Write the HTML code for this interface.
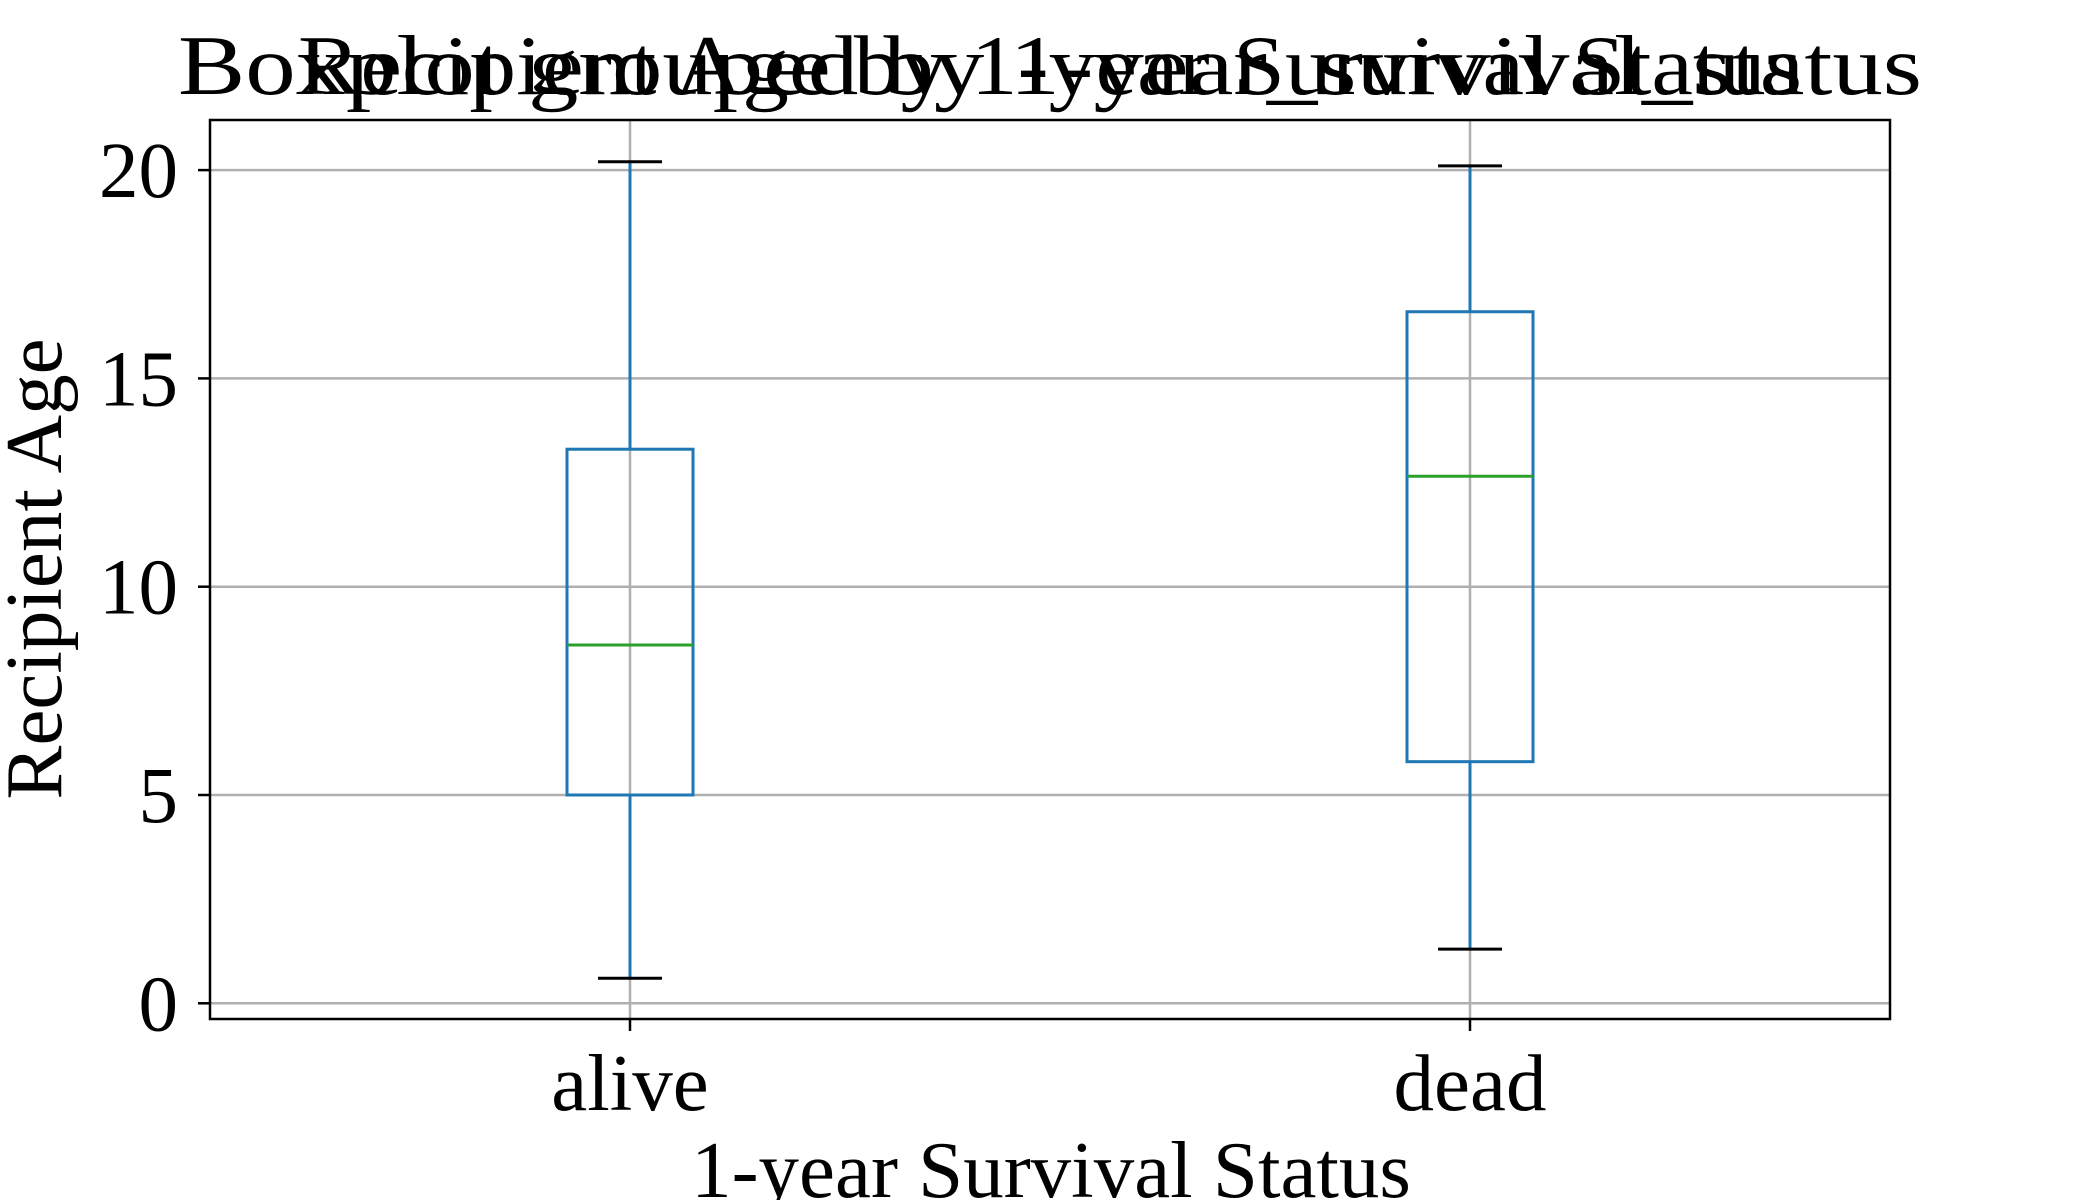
<!DOCTYPE html>
<html><head><meta charset="utf-8"><style>
html,body{margin:0;padding:0;background:#fff;}
svg{display:block;font-family:"Liberation Serif",serif;}
</style></head><body>
<svg id="chart" width="2100" height="1200" viewBox="0 0 2100 1200">
<text x="1050" y="94" font-size="85" text-anchor="middle" textLength="1744" lengthAdjust="spacingAndGlyphs">Boxplot grouped by 1-year_survival_status</text>
<text x="1050" y="94" font-size="85" text-anchor="middle" textLength="1504" lengthAdjust="spacingAndGlyphs">Recipient Age by 1-year Survival Status</text>
<g id="grid"></g>
<g id="boxes"></g>
<rect x="210" y="120" width="1680" height="899" fill="none" stroke="#000" stroke-width="2.5"/>
<g id="ticks"></g>
<text x="1051" y="1197" font-size="81" text-anchor="middle">1-year Survival Status</text>
<text transform="translate(61,569) rotate(-90)" font-size="81" text-anchor="middle">Recipient Age</text>
</svg>
<script>
const categories = ["alive","dead"];
const whiskerLow = [0.6, 1.3];
const q1 = [5.0, 5.8];
const median = [8.6, 12.65];
const q3 = [13.3, 16.6];
const whiskerHigh = [20.2, 20.1];
const yTicks = [0,5,10,15,20];

const NS="http://www.w3.org/2000/svg";
const L=210,R=1890,T=120,B=1019;
const y=v=>1003.3-(v/20)*(1003.3-170.1);
const x=i=>L+(R-L)*(i+0.5)/categories.length;
function mk(tag,attrs,parent){const e=document.createElementNS(NS,tag);for(const k in attrs)e.setAttribute(k,attrs[k]);parent.appendChild(e);return e;}
const grid=document.getElementById('grid'),ticks=document.getElementById('ticks'),boxes=document.getElementById('boxes');
yTicks.forEach(v=>{
  const g=mk('line',{x1:L,x2:R,y1:y(v),y2:y(v),stroke:'#b0b0b0','stroke-width':2.5},grid);
  
  
  const t=mk('line',{x1:L-12,x2:L,y1:y(v),y2:y(v),stroke:'#000','stroke-width':2.5},ticks);
  
  
  const l=mk('text',{x:L-32,y:y(v)+27,'font-size':79,'text-anchor':'end'},ticks);
  l.textContent=v;
  
  
});
categories.forEach((c,i)=>{
  const cx=x(i);
  const g=mk('line',{x1:cx,x2:cx,y1:T,y2:B,stroke:'#b0b0b0','stroke-width':2.5},grid);
  
  
  const t=mk('line',{x1:cx,x2:cx,y1:B,y2:B+12,stroke:'#000','stroke-width':2.5},ticks);
  
  
  const l=mk('text',{x:cx,y:1110,'font-size':81,'text-anchor':'middle'},ticks);
  l.textContent=c;
  
  
  const w1=mk('line',{x1:cx,x2:cx,y1:y(whiskerLow[i]),y2:y(q1[i]),stroke:'#1f77b4','stroke-width':3},boxes);
  
  
  const w2=mk('line',{x1:cx,x2:cx,y1:y(q3[i]),y2:y(whiskerHigh[i]),stroke:'#1f77b4','stroke-width':3},boxes);
  
  
  const c1=mk('line',{x1:cx-32,x2:cx+32,y1:y(whiskerLow[i]),y2:y(whiskerLow[i]),stroke:'#000','stroke-width':3},boxes);
  
  
  const c2=mk('line',{x1:cx-32,x2:cx+32,y1:y(whiskerHigh[i]),y2:y(whiskerHigh[i]),stroke:'#000','stroke-width':3},boxes);
  
  
  const b=mk('rect',{x:cx-63,y:y(q3[i]),width:126,height:y(q1[i])-y(q3[i]),fill:'none',stroke:'#1f77b4','stroke-width':3},boxes);
  
  
  const m=mk('line',{x1:cx-63,x2:cx+63,y1:y(median[i]),y2:y(median[i]),stroke:'#2ca02c','stroke-width':3},boxes);
  
  
});
</script>
</body></html>
